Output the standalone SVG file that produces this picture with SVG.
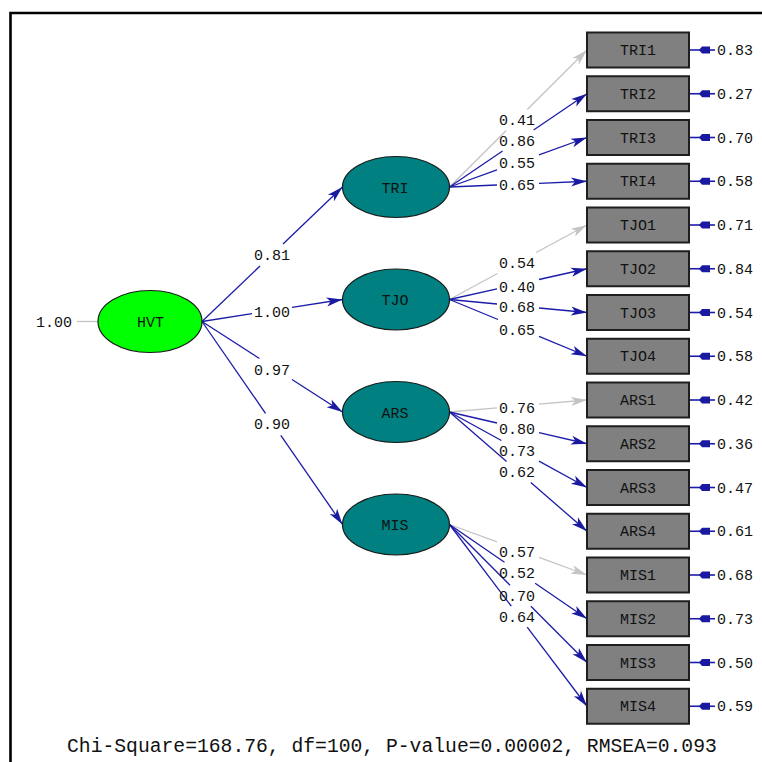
<svg xmlns="http://www.w3.org/2000/svg" width="762" height="762" viewBox="0 0 762 762">
<style>
.t{font-family:"Liberation Mono","Courier New",monospace;font-size:15px;fill:#111}
.c{text-anchor:middle}
.box{fill:#808080;stroke:#1e1e1e;stroke-width:2}
.lat{fill:#008080;stroke:#1a1a1a;stroke-width:1.2}
.b{fill:none;stroke:#1c1ca8;stroke-width:1.3}
.g{fill:none;stroke:#c4c4c4;stroke-width:1.3}
.ba{marker-end:url(#ab)}
.ga{marker-end:url(#ag)}
.er{fill:none;stroke:#1c1ca8;stroke-width:1.6;marker-mid:url(#ae)}
</style>
<defs>
<marker id="ab" markerUnits="userSpaceOnUse" viewBox="-17 -6 18 12" refX="0" refY="0" markerWidth="18" markerHeight="12" orient="auto"><path d="M0,0 L-16,-4.5 L-12,0 L-16,4.5 Z" fill="#1a1aa0"/></marker>
<marker id="ag" markerUnits="userSpaceOnUse" viewBox="-17 -6 18 12" refX="0" refY="0" markerWidth="18" markerHeight="12" orient="auto"><path d="M0,0 L-16,-4.5 L-12,0 L-16,4.5 Z" fill="#c4c4c4"/></marker>
<marker id="ae" markerUnits="userSpaceOnUse" viewBox="-12 -5 13 10" refX="0" refY="0" markerWidth="13" markerHeight="10" orient="auto"><path d="M0,0 L-3,-3.5 L-11,-3.5 L-11,3.5 L-3,3.5 Z" fill="#1a1aa0"/></marker>
</defs>
<rect width="762" height="762" fill="#fff"/>
<path d="M10.5,762 V13 H762" fill="none" stroke="#000" stroke-width="2.6"/>

<g id="connectors">
<path class="g" d="M77,321.5 H98"/>
<path class="b" d="M202,321.5 L260,266"/><path class="b ba" d="M283,244 L342.5,187"/>
<path class="b" d="M202,321.5 L252,313.7"/><path class="b ba" d="M292,307.4 L342.5,299.5"/>
<path class="b" d="M202,321.5 L259.4,358.5"/><path class="b ba" d="M292,379.5 L342.5,412"/>
<path class="b" d="M202,321.5 L265.5,413.3"/><path class="b ba" d="M280.8,435.3 L342.5,524.5"/>

<path class="g" d="M449.5,187 L506.2,130.5"/><path class="g ga" d="M527.3,109.5 L587,50"/>
<path class="b" d="M449.5,187 L502.6,151"/><path class="b ba" d="M533.6,130 L587,93.75"/>
<path class="b" d="M449.5,187 L497,169.9"/><path class="b ba" d="M539,154.8 L587,137.5"/>
<path class="b" d="M449.5,187 L497,185"/><path class="b ba" d="M539,183.3 L587,181.25"/>

<path class="g" d="M449.5,299.5 L497.5,273.5"/><path class="g ga" d="M536.2,252.5 L587,225"/>
<path class="b" d="M449.5,299.5 L497,288.9"/><path class="b ba" d="M539,279.5 L587,268.75"/>
<path class="b" d="M449.5,299.5 L497,304"/><path class="b ba" d="M539,308 L587,312.5"/>
<path class="b" d="M449.5,299.5 L498,319.5"/><path class="b ba" d="M539,336.4 L587,356.25"/>

<path class="g" d="M449.5,412 L497,407.9"/><path class="g ga" d="M539,404.2 L587,400"/>
<path class="b" d="M449.5,412 L497,423"/><path class="b ba" d="M539,432.7 L587,443.75"/>
<path class="b" d="M449.5,412 L501.4,440.5"/><path class="b ba" d="M539,461.1 L587,487.5"/>
<path class="b" d="M449.5,412 L506.6,461.5"/><path class="b ba" d="M530.8,482.5 L587,531.25"/>

<path class="g" d="M449.5,524.5 L497,541.95"/><path class="g ga" d="M539,557.4 L587,575"/>
<path class="b" d="M449.5,524.5 L504.5,562.2"/><path class="b ba" d="M535.1,583.2 L587,618.75"/>
<path class="b" d="M449.5,524.5 L510,585.2"/><path class="b ba" d="M530.9,606.2 L587,662.5"/>
<path class="b" d="M449.5,524.5 L511.3,606.2"/><path class="b ba" d="M527.2,627.2 L587,706.25"/>

<path class="er" d="M715,50 L699,50 L690,50"/>
<path class="er" d="M715,93.75 L699,93.75 L690,93.75"/>
<path class="er" d="M715,137.5 L699,137.5 L690,137.5"/>
<path class="er" d="M715,181.25 L699,181.25 L690,181.25"/>
<path class="er" d="M715,225 L699,225 L690,225"/>
<path class="er" d="M715,268.75 L699,268.75 L690,268.75"/>
<path class="er" d="M715,312.5 L699,312.5 L690,312.5"/>
<path class="er" d="M715,356.25 L699,356.25 L690,356.25"/>
<path class="er" d="M715,400 L699,400 L690,400"/>
<path class="er" d="M715,443.75 L699,443.75 L690,443.75"/>
<path class="er" d="M715,487.5 L699,487.5 L690,487.5"/>
<path class="er" d="M715,531.25 L699,531.25 L690,531.25"/>
<path class="er" d="M715,575 L699,575 L690,575"/>
<path class="er" d="M715,618.75 L699,618.75 L690,618.75"/>
<path class="er" d="M715,662.5 L699,662.5 L690,662.5"/>
<path class="er" d="M715,706.25 L699,706.25 L690,706.25"/>

<text class="t" x="36" y="327">1.00</text>
<text class="t" x="254" y="260">0.81</text>
<text class="t" x="254" y="317">1.00</text>
<text class="t" x="254" y="374.5">0.97</text>
<text class="t" x="254" y="429.3">0.90</text>

<text class="t" x="499" y="125">0.41</text>
<text class="t" x="499" y="145.5">0.86</text>
<text class="t" x="499" y="168">0.55</text>
<text class="t" x="499" y="190">0.65</text>
<text class="t" x="499" y="268">0.54</text>
<text class="t" x="499" y="291.7">0.40</text>
<text class="t" x="499" y="312.3">0.68</text>
<text class="t" x="499" y="335">0.65</text>
<text class="t" x="499" y="412.7">0.76</text>
<text class="t" x="499" y="434.3">0.80</text>
<text class="t" x="499" y="456">0.73</text>
<text class="t" x="499" y="477">0.62</text>
<text class="t" x="499" y="556.7">0.57</text>
<text class="t" x="499" y="577.7">0.52</text>
<text class="t" x="499" y="600.7">0.70</text>
<text class="t" x="499" y="621.7">0.64</text>

<text class="t" x="717" y="55">0.83</text>
<text class="t" x="717" y="98.75">0.27</text>
<text class="t" x="717" y="142.5">0.70</text>
<text class="t" x="717" y="186.25">0.58</text>
<text class="t" x="717" y="230">0.71</text>
<text class="t" x="717" y="273.75">0.84</text>
<text class="t" x="717" y="317.5">0.54</text>
<text class="t" x="717" y="361.25">0.58</text>
<text class="t" x="717" y="405">0.42</text>
<text class="t" x="717" y="448.75">0.36</text>
<text class="t" x="717" y="492.5">0.47</text>
<text class="t" x="717" y="536.25">0.61</text>
<text class="t" x="717" y="580">0.68</text>
<text class="t" x="717" y="623.75">0.73</text>
<text class="t" x="717" y="667.5">0.50</text>
<text class="t" x="717" y="711.25">0.59</text>
</g>

<g id="HVT"><ellipse cx="150" cy="321.5" rx="52" ry="31" fill="#00ff00" stroke="#1a1a1a" stroke-width="1.2"/><text class="t c" x="150.5" y="327">HVT</text></g>
<g id="TRI"><ellipse class="lat" cx="396" cy="187" rx="53.5" ry="30.5"/><text class="t c" x="395" y="192.5">TRI</text></g>
<g id="TJO"><ellipse class="lat" cx="396" cy="299.5" rx="53.5" ry="30.5"/><text class="t c" x="395" y="305">TJO</text></g>
<g id="ARS"><ellipse class="lat" cx="396" cy="412" rx="53.5" ry="30.5"/><text class="t c" x="395" y="417.5">ARS</text></g>
<g id="MIS"><ellipse class="lat" cx="396" cy="524.5" rx="53.5" ry="30.5"/><text class="t c" x="395" y="530">MIS</text></g>

<g id="TRI1"><rect class="box" x="587" y="32.5" width="102" height="35"/><text class="t c" x="638" y="55">TRI1</text></g>
<g id="TRI2"><rect class="box" x="587" y="76.25" width="102" height="35"/><text class="t c" x="638" y="98.75">TRI2</text></g>
<g id="TRI3"><rect class="box" x="587" y="120" width="102" height="35"/><text class="t c" x="638" y="142.5">TRI3</text></g>
<g id="TRI4"><rect class="box" x="587" y="163.75" width="102" height="35"/><text class="t c" x="638" y="186.25">TRI4</text></g>
<g id="TJO1"><rect class="box" x="587" y="207.5" width="102" height="35"/><text class="t c" x="638" y="230">TJO1</text></g>
<g id="TJO2"><rect class="box" x="587" y="251.25" width="102" height="35"/><text class="t c" x="638" y="273.75">TJO2</text></g>
<g id="TJO3"><rect class="box" x="587" y="295" width="102" height="35"/><text class="t c" x="638" y="317.5">TJO3</text></g>
<g id="TJO4"><rect class="box" x="587" y="338.75" width="102" height="35"/><text class="t c" x="638" y="361.25">TJO4</text></g>
<g id="ARS1"><rect class="box" x="587" y="382.5" width="102" height="35"/><text class="t c" x="638" y="405">ARS1</text></g>
<g id="ARS2"><rect class="box" x="587" y="426.25" width="102" height="35"/><text class="t c" x="638" y="448.75">ARS2</text></g>
<g id="ARS3"><rect class="box" x="587" y="470" width="102" height="35"/><text class="t c" x="638" y="492.5">ARS3</text></g>
<g id="ARS4"><rect class="box" x="587" y="513.75" width="102" height="35"/><text class="t c" x="638" y="536.25">ARS4</text></g>
<g id="MIS1"><rect class="box" x="587" y="557.5" width="102" height="35"/><text class="t c" x="638" y="580">MIS1</text></g>
<g id="MIS2"><rect class="box" x="587" y="601.25" width="102" height="35"/><text class="t c" x="638" y="623.75">MIS2</text></g>
<g id="MIS3"><rect class="box" x="587" y="645" width="102" height="35"/><text class="t c" x="638" y="667.5">MIS3</text></g>
<g id="MIS4"><rect class="box" x="587" y="688.75" width="102" height="35"/><text class="t c" x="638" y="711.25">MIS4</text></g>

<text x="67" y="751.5" style="font-family:'Liberation Mono','Courier New',monospace;font-size:19.7px;fill:#111">Chi-Square=168.76, df=100, P-value=0.00002, RMSEA=0.093</text>
</svg>
